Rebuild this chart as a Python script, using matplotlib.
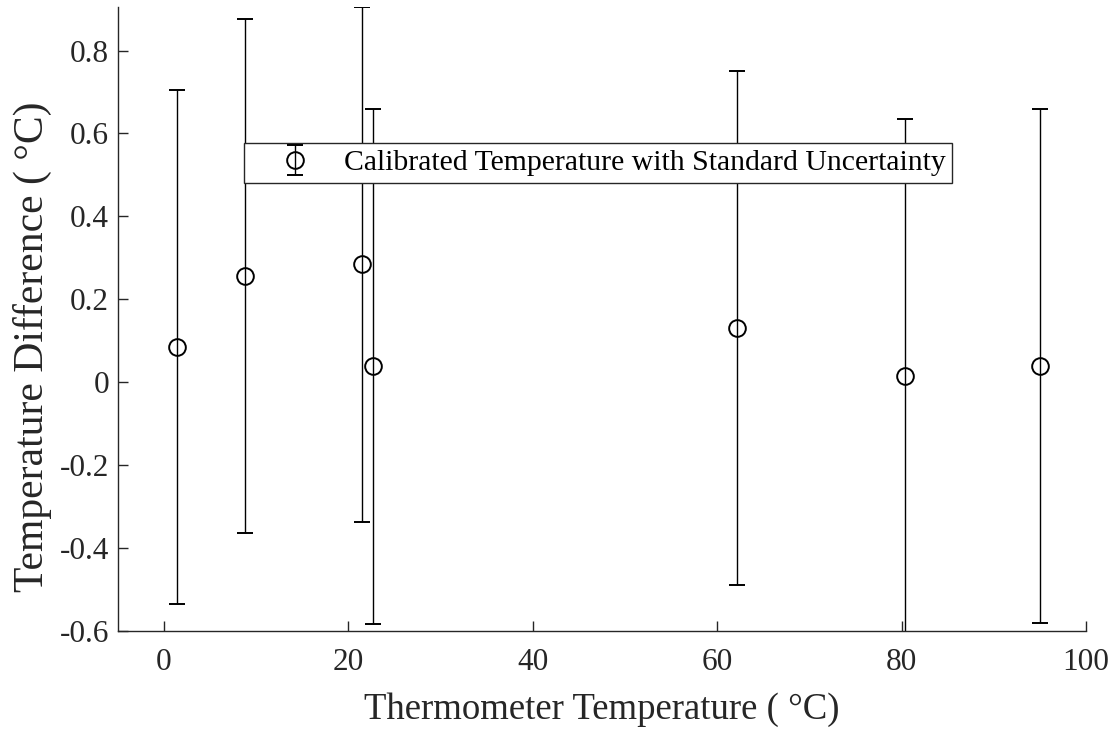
import matplotlib
matplotlib.use('Agg')
import matplotlib.pyplot as plt

plt.rcParams['font.family'] = ['Liberation Serif', 'DejaVu Serif']

# Thermometer readings and calibrated differences
thermo_temp = [1.45, 8.8, 21.5, 22.7, 62.2, 80.4, 95.0]
temp_diff = [0.085, 0.256, 0.284, 0.038, 0.131, 0.015, 0.039]
std_unc = [0.620, 0.620, 0.620, 0.620, 0.619, 0.620, 0.620]

x_ticks = [0, 20, 40, 60, 80, 100]
y_ticks = [-0.6, -0.4, -0.2, 0, 0.2, 0.4, 0.6, 0.8]
y_ticklabels = ['-0.6', '-0.4', '-0.2', '0', '0.2', '0.4', '0.6', '0.8']

dark = '#262626'

fig = plt.figure(figsize=(11.16, 7.3), dpi=100)
ax = fig.add_axes([0.1057, 0.1356, 0.8674, 0.8548])

ax.errorbar(thermo_temp, temp_diff, yerr=std_unc, fmt='o', color='black',
            mfc='none', mec='black', markersize=12, mew=1.4,
            elinewidth=1.0, capsize=6, capthick=1.4,
            label='Calibrated Temperature with Standard Uncertainty')

ax.set_xlim(-5, 100)
ax.set_ylim(-0.6, 0.905)
ax.set_xticks(x_ticks)
ax.set_yticks(y_ticks)
ax.set_yticklabels(y_ticklabels)

for side in ['top', 'right']:
    ax.spines[side].set_visible(False)
for side in ['left', 'bottom']:
    ax.spines[side].set_color(dark)
    ax.spines[side].set_linewidth(1.0)

ax.tick_params(direction='in', length=7, width=1.0, colors=dark, labelsize=22.5)
ax.tick_params(axis='x', pad=12.5)
ax.tick_params(axis='y', pad=6.5)

ax.set_xlabel('Thermometer Temperature ( °C)', fontsize=26.5, color=dark)
ax.set_ylabel('Temperature Difference ( °C)', fontsize=30, color=dark)
ax.xaxis.set_label_coords(0.5, -0.099)
ax.yaxis.set_label_coords(-0.068, 0.455)

leg = ax.legend(loc='upper left', bbox_to_anchor=(0.1302, 0.7820), fontsize=21.4,
                frameon=True, fancybox=False, edgecolor=dark, framealpha=1,
                borderpad=0.22, handletextpad=0.15, handlelength=3.0,
                borderaxespad=0)
leg.get_frame().set_linewidth(1.0)

fig.savefig('out.png', dpi=100)
